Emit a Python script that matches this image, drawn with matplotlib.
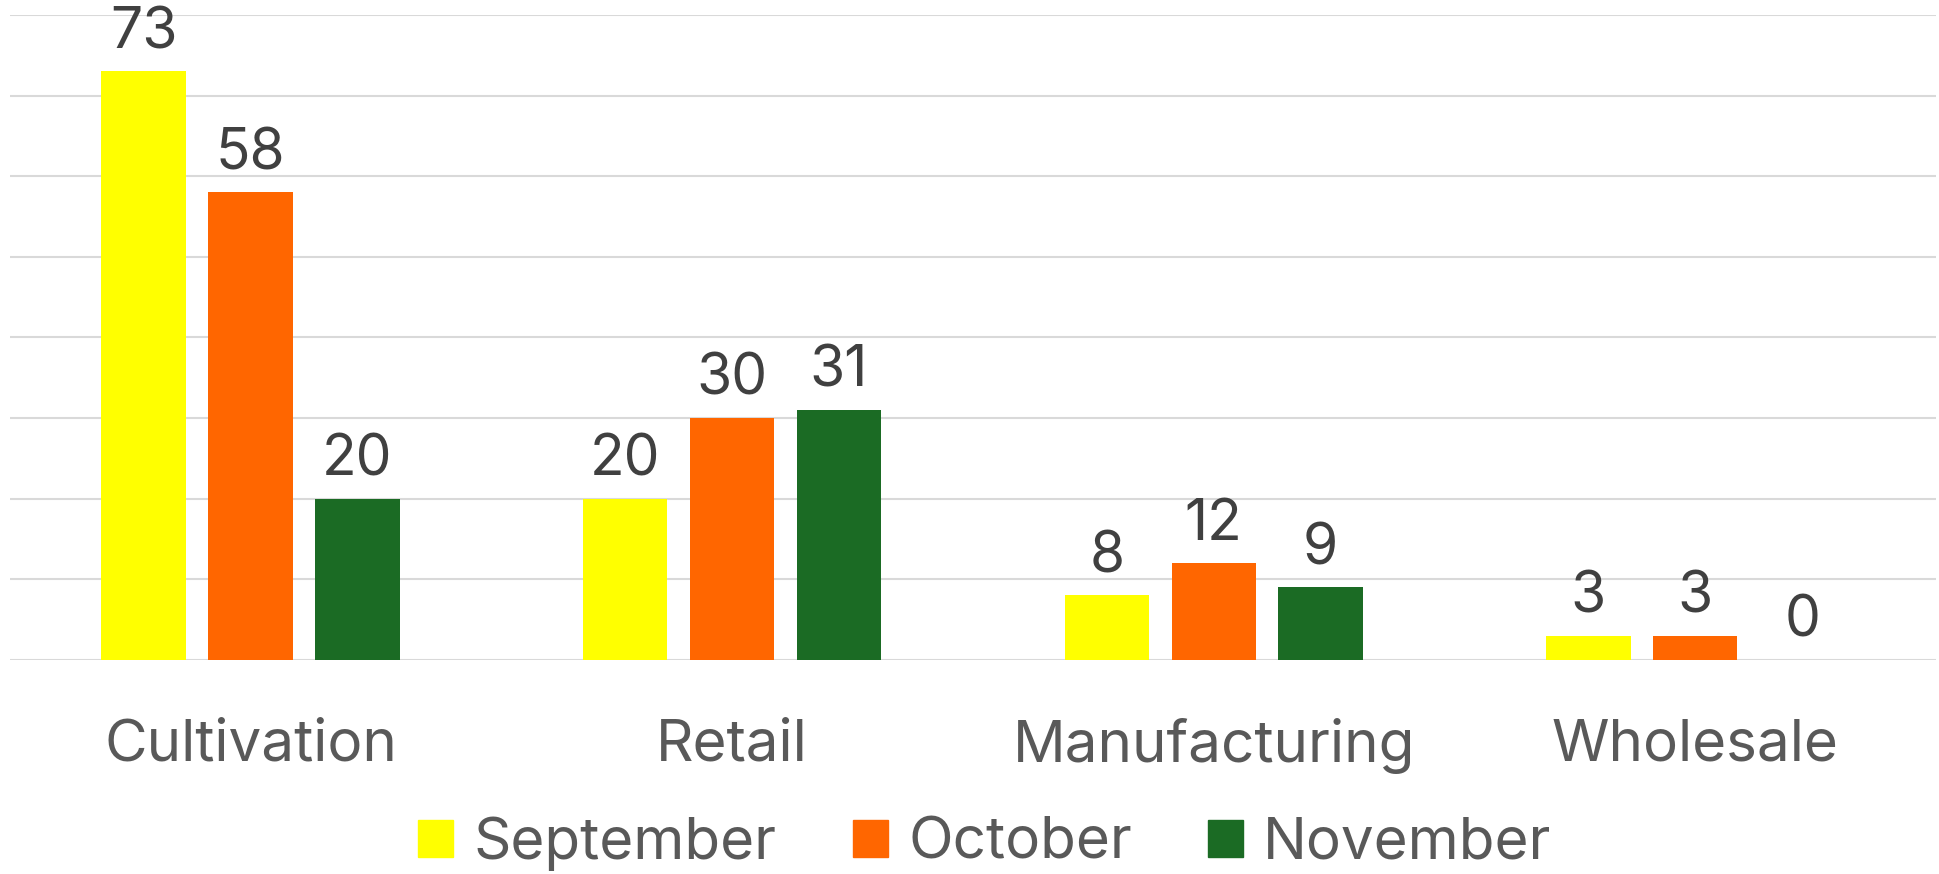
import matplotlib.pyplot as plt
from matplotlib.patches import Patch

categories = ['Cultivation', 'Retail', 'Manufacturing', 'Wholesale']
months = ['September', 'October', 'November']
september = [73, 20, 8, 3]
october = [58, 30, 12, 3]
november = [20, 31, 9, 0]

colors = ['#FFFF00', '#FF6600', '#1B6B24']
series = [september, october, november]

plt.rcParams['font.family'] = ['Inter', 'DejaVu Sans']

fig = plt.figure(figsize=(19.39, 8.74), dpi=100)
ax = fig.add_axes([0.005, 0.2449, 0.9935, 0.7379])

width = 0.175
step = 0.222
x = list(range(len(categories)))
for i, (vals, col) in enumerate(zip(series, colors)):
    xs = [xi + (i - 1) * step for xi in x]
    bars = ax.bar(xs, vals, width=width, color=col, zorder=3)
    ax.bar_label(bars, labels=[str(v) for v in vals], padding=8,
                 fontsize=41, color='#404040')

ax.set_xlim(-0.5, 3.5)
ax.set_ylim(0, 80)
ax.set_yticks(range(0, 81, 10))
ax.yaxis.grid(True, color='#D9D9D9', linewidth=1.5, zorder=0)
ax.tick_params(axis='y', left=False, labelleft=False)
ax.set_xticks(x)
ax.set_xticklabels(categories, fontsize=42, color='#595959')
ax.tick_params(axis='x', length=0, pad=42)
for s in ax.spines.values():
    s.set_visible(False)

handles = [Patch(color=c, label=m) for c, m in zip(colors, months)]
fig.legend(handles=handles, loc='center', bbox_to_anchor=(0.508, 0.035),
           ncol=3, frameon=False, fontsize=42, labelcolor='#595959',
           handlelength=0.6, handleheight=0.6, handletextpad=0.35,
           columnspacing=1.3)

fig.savefig('out.png', dpi=100)
